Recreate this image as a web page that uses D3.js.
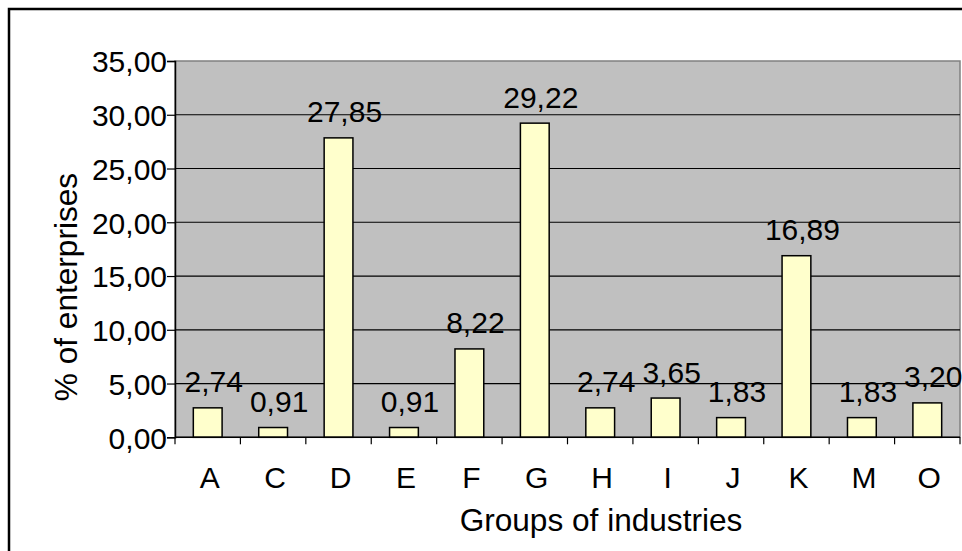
<!DOCTYPE html>
<html>
<head>
<meta charset="utf-8">
<script src="https://cdn.jsdelivr.net/npm/d3@7"></script>
<style>
  body { margin: 0; background: #fff; }
  svg { display: block; font-family: "Liberation Sans", Arial, sans-serif; }
</style>
</head>
<body>
<div id="chart"></div>
<script>
// chart data
let categories = ["A", "C", "D", "E", "F", "G", "H", "I", "J", "K", "M", "O"];
let values = [2.74, 0.91, 27.85, 0.91, 8.22, 29.22, 2.74, 3.65, 1.83, 16.89, 1.83, 3.20];
let yTicks = [0, 5, 10, 15, 20, 25, 30, 35];

//define positional parameters
let svgWidth = 962;
let svgHeight = 551;
let plotLeft = 175;
let plotRight = 960;
let plotTop = 61;
let plotBottom = 437.3;
let fontSize = 30;
let titleSize = 31.6;

let fmt = v => d3.format(".2f")(v).replace(".", ",");

let svg = d3.select("#chart")
  .append("svg")
  .attr("width", svgWidth)
  .attr("height", svgHeight);

//outer border (clipped at right and bottom)
svg.append("rect")
  .attr("x", 9)
  .attr("y", 9)
  .attr("width", 1000)
  .attr("height", 1000)
  .attr("fill", "none")
  .attr("stroke", "#000")
  .attr("stroke-width", 2.5);

//scales
let xScale = d3.scaleBand()
  .domain(categories)
  .range([plotLeft, plotRight])
  .paddingInner(0.56)
  .paddingOuter(0.28);

let yScale = d3.scaleLinear()
  .domain([0, 35])
  .range([plotBottom, plotTop]);

//plot background
svg.append("rect")
  .attr("x", plotLeft)
  .attr("y", plotTop)
  .attr("width", plotRight - plotLeft)
  .attr("height", plotBottom - plotTop)
  .attr("fill", "#c0c0c0")
  .attr("stroke", "#808080")
  .attr("stroke-width", 1.5);

//gridlines
svg.append("g")
  .selectAll("line")
  .data(yTicks.filter(d => d > 0 && d < 35))
  .join("line")
  .attr("x1", plotLeft)
  .attr("x2", plotRight)
  .attr("y1", d => yScale(d))
  .attr("y2", d => yScale(d))
  .attr("stroke", "#000")
  .attr("stroke-width", 1.2);

//bars
svg.append("g")
  .selectAll("rect")
  .data(values)
  .join("rect")
  .attr("x", (d, i) => xScale(categories[i]))
  .attr("y", d => yScale(d))
  .attr("width", xScale.bandwidth())
  .attr("height", d => plotBottom - yScale(d))
  .attr("fill", "#ffffcc")
  .attr("stroke", "#000")
  .attr("stroke-width", 1.5);

//data labels
svg.append("g")
  .selectAll("text")
  .data(values)
  .join("text")
  .attr("x", (d, i) => xScale(categories[i]) + xScale.bandwidth() / 2 + 6)
  .attr("y", d => yScale(d) - 15.5)
  .attr("text-anchor", "middle")
  .attr("font-size", fontSize)
  .attr("fill", "#000")
  .text(d => fmt(d));

//y axis
let yAxis = d3.axisLeft(yScale)
  .tickValues(yTicks)
  .tickSize(8)
  .tickPadding(0)
  .tickFormat(fmt);

let yG = svg.append("g")
  .attr("transform", `translate(${plotLeft},0)`)
  .call(yAxis);
yG.select(".domain").attr("stroke", "#000").attr("stroke-width", 1.5);
yG.selectAll(".tick line").attr("stroke", "#000").attr("stroke-width", 1.2);
yG.selectAll(".tick text")
  .attr("font-size", fontSize)
  .attr("font-family", "Liberation Sans, Arial, sans-serif")
  .attr("fill", "#000")
  .attr("dy", "0.36em");

//x axis with ticks at category boundaries
let step = xScale.step();
let boundaries = d3.range(categories.length + 1).map(i => plotLeft + i * step);

svg.append("line")
  .attr("x1", plotLeft)
  .attr("x2", plotRight)
  .attr("y1", plotBottom)
  .attr("y2", plotBottom)
  .attr("stroke", "#000")
  .attr("stroke-width", 1.5);

svg.append("g")
  .selectAll("line")
  .data(boundaries)
  .join("line")
  .attr("x1", d => d)
  .attr("x2", d => d)
  .attr("y1", plotBottom)
  .attr("y2", plotBottom + 7)
  .attr("stroke", "#000")
  .attr("stroke-width", 1.2);

svg.append("g")
  .selectAll("text")
  .data(categories)
  .join("text")
  .attr("x", d => xScale(d) + xScale.bandwidth() / 2 + 2)
  .attr("y", 488)
  .attr("text-anchor", "middle")
  .attr("font-size", fontSize)
  .attr("fill", "#000")
  .text(d => d);

//axis titles
svg.append("text")
  .attr("x", 601)
  .attr("y", 531)
  .attr("text-anchor", "middle")
  .attr("font-size", titleSize)
  .attr("fill", "#000")
  .text("Groups of industries");

svg.append("text")
  .attr("transform", "translate(77,287) rotate(-90)")
  .attr("text-anchor", "middle")
  .attr("font-size", titleSize)
  .attr("fill", "#000")
  .text("% of enterprises");
</script>
</body>
</html>
